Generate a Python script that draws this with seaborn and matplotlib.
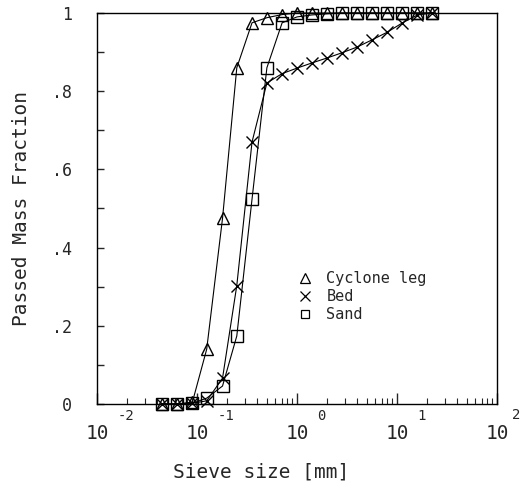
import numpy as np
import pandas as pd
import matplotlib
matplotlib.use("Agg")
import matplotlib.pyplot as plt
from matplotlib.lines import Line2D
from matplotlib.ticker import LogLocator, NullFormatter, FixedLocator
import seaborn as sns

# Sieve openings [mm] (sqrt(2) series)
sieve_mm = [0.045, 0.063, 0.09, 0.125, 0.18, 0.25, 0.355, 0.5, 0.71, 1.0,
            1.4, 2.0, 2.8, 4.0, 5.6, 8.0, 11.2, 16.0, 22.4]

# Cumulative passed mass fraction per sample
cyclone_leg = [0.0, 0.0, 0.005, 0.14, 0.475, 0.86, 0.975, 0.988, 0.996, 1.0,
               1.0, 1.0, 1.0, 1.0, 1.0, 1.0, 1.0, 1.0, 1.0]
bed = [0.0, 0.0, 0.002, 0.008, 0.066, 0.303, 0.67, 0.821, 0.845, 0.859,
       0.872, 0.885, 0.898, 0.913, 0.931, 0.951, 0.974, 0.995, 1.0]
sand = [0.0, 0.0, 0.002, 0.015, 0.046, 0.174, 0.524, 0.86, 0.975, 0.99,
        0.995, 0.998, 1.0, 1.0, 1.0, 1.0, 1.0, 1.0, 1.0]

series_names = ["Cyclone leg", "Bed", "Sand"]
series_markers = ["^", "x", "s"]

y_tick_values = [0, 0.2, 0.4, 0.6, 0.8, 1.0]
y_tick_labels = ["0", ".2", ".4", ".6", ".8", "1"]
x_decades = [-2, -1, 0, 1, 2]

df = pd.DataFrame({
    "size": sieve_mm * 3,
    "fraction": cyclone_leg + bed + sand,
    "sample": sum([[n] * len(sieve_mm) for n in series_names], []),
})

sns.set_style("white")
plt.rcParams["font.family"] = ["DejaVu Sans Mono"]

fig = plt.figure(figsize=(5.21, 4.92), dpi=100)
ax = fig.add_axes([97 / 521, 1 - 404 / 492, 400 / 521, 391 / 492])

for name, mk in zip(series_names, series_markers):
    sub = df[df["sample"] == name]
    sns.lineplot(data=sub, x="size", y="fraction", ax=ax, color="black",
                 linewidth=0.8, marker=mk, markersize=9 if mk != "s" else 8.5,
                 markerfacecolor="none", markeredgecolor="black",
                 markeredgewidth=1.0, clip_on=False, legend=False)

ax.set_xscale("log")
ax.set_xlim(1e-2, 1e2)
ax.set_ylim(0, 1)

for s in ax.spines.values():
    s.set_color("black")
    s.set_linewidth(1.0)

# ticks drawn inward, labels placed as plotter-style text
ax.xaxis.set_major_locator(LogLocator(base=10, numticks=10))
ax.xaxis.set_minor_locator(LogLocator(base=10, subs=np.arange(2, 10), numticks=20))
ax.xaxis.set_major_formatter(NullFormatter())
ax.xaxis.set_minor_formatter(NullFormatter())
ax.tick_params(axis="x", which="major", direction="in", length=8, width=1,
               bottom=True, top=False, labelbottom=False)
ax.tick_params(axis="x", which="minor", direction="in", length=4, width=0.8,
               bottom=True, top=False)
ax.yaxis.set_major_locator(FixedLocator(y_tick_values))
ax.yaxis.set_minor_locator(FixedLocator(np.arange(0.1, 1.0, 0.2)))
ax.set_yticklabels(y_tick_labels)
ax.tick_params(axis="y", which="both", direction="in", length=5, width=1,
               left=True, right=False, labelsize=12, pad=18)

trans = ax.get_xaxis_transform()
for d in x_decades:
    ax.text(10.0 ** d, -0.075, "10", transform=trans, ha="center", va="center",
            fontsize=14)
    if d < x_decades[-1]:
        ax.text(10.0 ** d * 1.6, -0.03, f"{d}", transform=trans, ha="left",
                va="center", fontsize=10)
    else:
        # last exponent sits against the right edge of the figure
        fig.text(0.999, 1 - 415 / 492, f"{d}", ha="right", va="center",
                 fontsize=10)

ax.set_xlabel("Sieve size [mm]", fontsize=14)
ax.xaxis.set_label_coords(0.41, -0.15)
ax.set_ylabel("Passed Mass Fraction", fontsize=14)
ax.yaxis.set_label_coords(-0.165, 0.5)

handles = [Line2D([], [], ls="none", marker=mk, color="black",
                  markerfacecolor="none", markersize=7 if mk != "s" else 6,
                  markeredgewidth=0.9) for mk in series_markers]
ax.legend(handles, series_names, loc="upper left",
          bbox_to_anchor=(0.47, 0.375), frameon=False, fontsize=11,
          handlelength=0.8, handletextpad=1.0, labelspacing=0.2)

fig.savefig("out.png", dpi=100)
